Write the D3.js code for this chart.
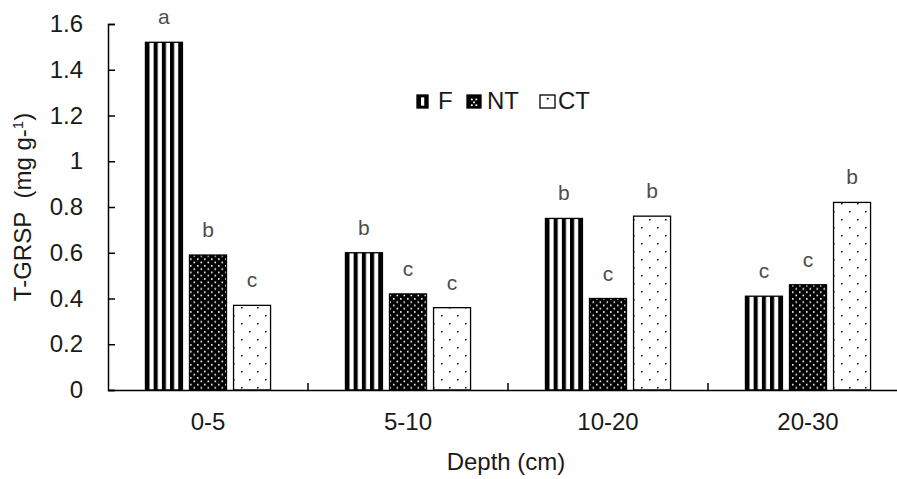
<!DOCTYPE html>
<html>
<head>
<meta charset="utf-8">
<style>
  body { margin: 0; background: #fff; }
  svg { display: block; font-family: Arial, "Liberation Sans", sans-serif; }
  .tick-label { fill: #1a1a1a; font-size: 24px; }
  .sig { fill: #4d4d4d; font-size: 21px; text-anchor: middle; }
  .axis-title { fill: #1a1a1a; font-size: 24px; text-anchor: middle; }
</style>
</head>
<body>
<svg width="897" height="479"></svg>
<script src="https://cdnjs.cloudflare.com/ajax/libs/d3/7.8.5/d3.min.js"></script>
<script>
// values
var depths = ["0-5", "5-10", "10-20", "20-30"];
var treatments = ["F", "NT", "CT"];
var valF  = [1.52, 0.60, 0.75, 0.41];
var valNT = [0.59, 0.42, 0.40, 0.46];
var valCT = [0.37, 0.36, 0.76, 0.82];
var sigF  = ["a", "b", "b", "c"];
var sigNT = ["b", "c", "c", "c"];
var sigCT = ["c", "c", "b", "b"];
var yTicks = [0, 0.2, 0.4, 0.6, 0.8, 1, 1.2, 1.4, 1.6];

var values = { F: valF, NT: valNT, CT: valCT };
var letters = { F: sigF, NT: sigNT, CT: sigCT };

var svg = d3.select("svg");

var x0 = d3.scaleBand().domain(depths).range([108, 908]).paddingInner(0).paddingOuter(0);
var x1 = d3.scaleBand().domain(treatments).range([0, x0.bandwidth()])
    .paddingInner(0.16).paddingOuter(0.85);
var y = d3.scaleLinear().domain([0, 1.6]).range([390, 24]);

// fill patterns
var defs = svg.append("defs");

// vertical stripes, 5 black stripes across a bar
var pF = defs.append("pattern").attr("id", "pF")
    .attr("patternUnits", "objectBoundingBox")
    .attr("patternContentUnits", "objectBoundingBox")
    .attr("width", 0.2216).attr("height", 1);
pF.append("rect").attr("width", 0.2216).attr("height", 1).attr("fill", "#fff");
pF.append("rect").attr("width", 0.11).attr("height", 1).attr("fill", "#000");

// black with dense white dots
var pNT = defs.append("pattern").attr("id", "pNT")
    .attr("patternUnits", "userSpaceOnUse")
    .attr("width", 7).attr("height", 6.6);
pNT.append("rect").attr("width", 7).attr("height", 6.6).attr("fill", "#000");
pNT.append("rect").attr("x", 1).attr("y", 1).attr("width", 1.6).attr("height", 1.6).attr("fill", "#fff");
pNT.append("rect").attr("x", 4.5).attr("y", 4.3).attr("width", 1.6).attr("height", 1.6).attr("fill", "#fff");

// white with sparse black dots
var pCT = defs.append("pattern").attr("id", "pCT")
    .attr("patternUnits", "userSpaceOnUse")
    .attr("width", 16).attr("height", 16);
pCT.append("rect").attr("width", 16).attr("height", 16).attr("fill", "#fff");
pCT.append("rect").attr("x", 1).attr("y", 3).attr("width", 1.5).attr("height", 1.5).attr("fill", "#000");
pCT.append("rect").attr("x", 9).attr("y", 11).attr("width", 1.5).attr("height", 1.5).attr("fill", "#000");

// legend versions
var lF = defs.append("pattern").attr("id", "lF")
    .attr("patternUnits", "objectBoundingBox")
    .attr("patternContentUnits", "objectBoundingBox")
    .attr("width", 1).attr("height", 1);
lF.append("rect").attr("width", 1).attr("height", 1).attr("fill", "#000");
lF.append("rect").attr("x", 0.36).attr("width", 0.3).attr("y", 0.18).attr("height", 0.64).attr("fill", "#fff");
var lNT = defs.append("pattern").attr("id", "lNT")
    .attr("patternUnits", "objectBoundingBox")
    .attr("patternContentUnits", "objectBoundingBox")
    .attr("width", 1).attr("height", 1);
lNT.append("rect").attr("width", 1).attr("height", 1).attr("fill", "#000");
[[0.28, 0.28], [0.6, 0.28], [0.44, 0.5], [0.28, 0.72], [0.6, 0.72]].forEach(function(p) {
  lNT.append("rect").attr("x", p[0]).attr("y", p[1]).attr("width", 0.13).attr("height", 0.13).attr("fill", "#fff");
});
var lCT = defs.append("pattern").attr("id", "lCT")
    .attr("patternUnits", "objectBoundingBox")
    .attr("patternContentUnits", "objectBoundingBox")
    .attr("width", 1).attr("height", 1);
lCT.append("rect").attr("width", 1).attr("height", 1).attr("fill", "#fff");
lCT.append("rect").attr("x", 0.45).attr("y", 0.22).attr("width", 0.13).attr("height", 0.13).attr("fill", "#000");

var fills = { F: "url(#pF)", NT: "url(#pNT)", CT: "url(#pCT)" };
var legendFills = { F: "url(#lF)", NT: "url(#lNT)", CT: "url(#lCT)" };

// bars
var rows = [];
depths.forEach(function(d, i) {
  treatments.forEach(function(t) {
    rows.push({ depth: d, trt: t, v: values[t][i], sig: letters[t][i] });
  });
});

var bar = svg.append("g").selectAll("g")
  .data(rows)
  .enter().append("g");

bar.append("rect")
    .attr("x", function(d) { return x0(d.depth) + x1(d.trt); })
    .attr("y", function(d) { return y(d.v); })
    .attr("width", x1.bandwidth())
    .attr("height", function(d) { return y(0) - y(d.v); })
    .attr("fill", function(d) { return fills[d.trt]; })
    .attr("stroke", "#000")
    .attr("stroke-width", 1.3);

bar.append("text")
    .attr("class", "sig")
    .attr("x", function(d) { return x0(d.depth) + x1(d.trt) + x1.bandwidth() / 2; })
    .attr("y", function(d) { return y(d.v) - 18; })
    .text(function(d) { return d.sig; });

// y axis, ticks pointing inward
var yAxis = svg.append("g")
    .attr("transform", "translate(108,0)")
    .call(d3.axisLeft(y).tickValues(yTicks).tickSize(-7).tickPadding(25)
      .tickFormat(function(d) { return String(+d.toFixed(1)); }));
yAxis.select(".domain").attr("stroke", "#000").attr("stroke-width", 1.5);
yAxis.selectAll(".tick line").attr("stroke", "#000").attr("stroke-width", 1.5);
yAxis.selectAll(".tick text").attr("class", "tick-label").attr("font-size", null).attr("font-family", null).attr("fill", null);

// x axis: labels at centres, tick marks at category boundaries
var xAxis = svg.append("g")
    .attr("transform", "translate(0,390)")
    .call(d3.axisBottom(x0).tickSize(0).tickPadding(23));
xAxis.select(".domain").attr("stroke", "#000").attr("stroke-width", 1.5);
xAxis.selectAll(".tick text").attr("class", "tick-label").attr("font-size", null).attr("font-family", null).attr("fill", null);

svg.append("g").selectAll("line")
  .data(depths.slice(1))
  .enter().append("line")
    .attr("x1", function(d) { return x0(d); })
    .attr("x2", function(d) { return x0(d); })
    .attr("y1", 390).attr("y2", 383)
    .attr("stroke", "#000").attr("stroke-width", 1.5);

// axis titles
svg.append("text")
    .attr("class", "axis-title")
    .attr("x", 506).attr("y", 470)
    .text("Depth (cm)");

var yt = svg.append("text")
    .attr("class", "axis-title")
    .attr("transform", "translate(31,207) rotate(-90)");
yt.append("tspan").text("T-GRSP\u00a0\u00a0(mg g-");
yt.append("tspan").attr("dy", -8).attr("font-size", 15).text("1");
yt.append("tspan").attr("dy", 8).text(")");

// legend
var legendX = { F: 417, NT: 467, CT: 540 };
var legendW = { F: 11, NT: 14, CT: 15 };
var legendGap = { F: 21, NT: 20, CT: 18 };
var leg = svg.append("g").selectAll("g")
  .data(treatments)
  .enter().append("g")
    .attr("transform", function(t) { return "translate(" + legendX[t] + ",95)"; });
leg.append("rect")
    .attr("width", function(t) { return legendW[t]; })
    .attr("height", 13)
    .attr("fill", function(t) { return legendFills[t]; })
    .attr("stroke", "#000").attr("stroke-width", 1.3);
leg.append("text")
    .attr("class", "tick-label")
    .attr("x", function(t) { return legendGap[t]; })
    .attr("y", 14)
    .text(function(t) { return t; });
</script>
</body>
</html>
